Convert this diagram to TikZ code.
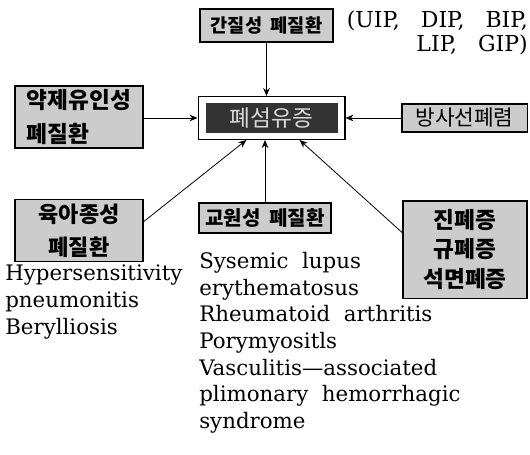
\documentclass[tikz,border=0pt]{standalone}
\usepackage{fontspec}
\setmainfont{DejaVu Serif}
\newfontfamily\kr{Noto Sans CJK KR}
\usetikzlibrary{arrows.meta,positioning,calc}

\begin{document}
\begin{tikzpicture}[x=0.75pt, y=-0.75pt, >={Stealth[length=6pt,width=5pt]},
  gbox/.style={draw, line width=1pt, fill=black!20, inner sep=0pt, align=center, font=\kr\bfseries\fontsize{14}{21}\selectfont},
  lst/.style={anchor=north west, align=left, inner sep=0pt, font=\fontsize{16}{20}\selectfont},
  link/.style={line width=0.6pt}]
\useasboundingbox (0,0) rectangle (530,454);
\node[gbox, minimum width=99.75pt, minimum height=24.75pt] (inter) at (266.5,25.5) {간질성\ \ 폐질환};
\node[anchor=north east, align=right, inner sep=0pt, font=\fontsize{16.5}{18}\selectfont] (uip) at (528,11) {(UIP,\ \ \ DIP,\ \ \ BIP,\\LIP,\ \ \ GIP)};
\node[draw, line width=1pt, fill=white, minimum width=110pt, minimum height=32pt] (outer) at (271.5,118) {};
\node[fill=black!80, text=white!85!black, minimum width=99pt, minimum height=21pt, font=\kr\fontsize{17}{17}\selectfont] (core) at (outer.center) {폐섬유증};
\node[gbox, minimum width=96pt, minimum height=46.5pt, align=left, font=\kr\bfseries\fontsize{17}{25}\selectfont] (drug) at (79,117) {약제유인성\\폐질환};
\node[gbox, minimum width=94pt, minimum height=21pt, font=\kr\fontsize{16}{16}\selectfont] (rad) at (464.5,118) {방사선폐렴};
\node[gbox, minimum width=96pt, minimum height=46.5pt, font=\kr\bfseries\fontsize{16.5}{25}\selectfont] (gran) at (79,230.5) {육아종성\\폐질환};
\node[gbox, minimum width=99pt, minimum height=22.5pt, font=\kr\bfseries\fontsize{15}{15}\selectfont] (coll) at (265,218) {교원성\ \ 폐질환};
\node[gbox, minimum width=93pt, minimum height=73pt, font=\kr\bfseries\fontsize{17}{22}\selectfont] (dust) at (465,249.5) {진폐증\\규폐증\\석면폐증};

\node[lst] (hyper) at (5,265) {Hypersensitivity\\pneumonitis\\Berylliosis};
\node[lst] (colllist) at (199,252) {Sysemic\ \ lupus\\erythematosus\\Rheumatoid\ \ arthritis\\Porymyositls\\Vasculitis---associated\\plimonary\ \ hemorrhagic\\syndrome};

\draw[link,->] (inter.south) -- (inter.south |- outer.north);
\draw[link,->] (drug.east |- outer.west) -- (outer.west);
\draw[link,->] (rad.west) -- (rad.west -| outer.east);
\draw[link,->] ($(gran.north east)!0.36!(gran.south east)$) -- ($(outer.south west)!0.33!(outer.south east)$);
\draw[link,->] (coll.north) -- (coll.north |- outer.south);
\draw[link,->] ($(dust.north west)!0.33!(dust.south west)$) -- ($(outer.south west)!0.69!(outer.south east)$);
\end{tikzpicture}
\end{document}
